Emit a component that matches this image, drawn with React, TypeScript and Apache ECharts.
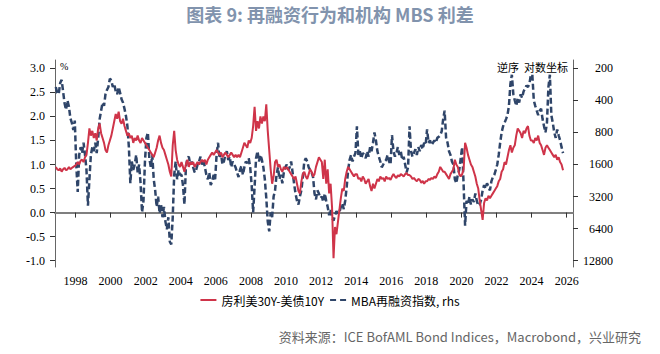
import React, { useEffect, useRef } from "react";
import * as echarts from "echarts";

// Monthly observations starting November 1996
const START_YEAR = 1996;
const START_MONTH = 11;

// 房利美30Y-美债10Y (%), left axis
const spread: number[] = [
  0.95, 0.9,
  0.88, 0.92, 0.85, 0.9, 0.93, 0.88, 0.9, 0.95, 0.9, 0.93, 0.95, 0.97,
  1.0, 1.05, 1.0, 1.08, 1.1, 1.05, 1.15, 1.2, 1.45, 1.75, 1.6, 1.7,
  1.55, 1.65, 1.5, 1.75, 1.85, 1.65, 1.55, 1.45, 1.3, 1.25, 1.4, 1.5,
  1.6, 1.75, 1.9, 2.05, 1.95, 2.1, 1.9, 1.85, 1.95, 1.8, 1.7, 1.6,
  1.65, 1.55, 1.6, 1.45, 1.55, 1.5, 1.6, 1.5, 1.45, 1.55, 1.5, 1.45,
  1.4, 1.35, 1.3, 1.25, 1.2, 1.15, 1.25, 1.35, 1.5, 1.6, 1.45, 1.35,
  1.3, 1.2, 1.1, 1.0, 0.85, 0.75, 1.4, 1.7, 1.3, 1.1, 1.0, 0.95,
  1.05, 0.95, 0.85, 1.0, 1.1, 0.95, 1.05, 1.0, 1.05, 0.95, 1.0, 1.05,
  1.0, 1.05, 1.1, 1.05, 1.1, 1.0, 1.1, 1.15, 1.2, 1.25, 1.2, 1.25,
  1.3, 1.25, 1.2, 1.25, 1.15, 1.2, 1.25, 1.2, 1.15, 1.2, 1.25, 1.2,
  1.15, 1.2, 1.15, 1.2, 1.15, 1.25, 1.35, 1.45, 1.4, 1.35, 1.5, 1.45,
  1.55, 1.8, 2.2, 1.7, 1.9, 1.75, 2.0, 1.85, 2.0, 1.9, 2.25, 1.7,
  1.3, 0.9, 0.6, 0.75, 1.05, 1.1, 0.95, 1.0, 0.9, 0.85, 0.95, 0.9,
  0.95, 0.9, 0.85, 0.8, 0.75, 0.7, 0.75, 0.6, 0.45, 0.4, 0.65, 0.8,
  0.85, 0.75, 0.7, 0.8, 0.9, 0.85, 0.75, 0.8, 0.95, 1.05, 1.15, 1.1,
  1.05, 0.7, 1.1, 0.6, 0.9, 0.4, 0.6, 0.1, -0.95, -0.3, -0.45, -0.2,
  0.05, 0.3, 0.5, 0.45, 0.7, 0.85, 0.95, 0.9, 0.85, 0.8, 0.75, 0.8,
  0.8, 0.7, 0.72, 0.65, 0.75, 0.7, 0.6, 0.65, 0.7, 0.55, 0.45, 0.6,
  0.5, 0.6, 0.7, 0.65, 0.75, 0.7, 0.72, 0.65, 0.75, 0.7, 0.72, 0.68,
  0.75, 0.8, 0.75, 0.72, 0.78, 0.75, 0.8, 0.78, 0.75, 0.8, 0.82, 0.78,
  0.78, 0.75, 0.7, 0.72, 0.68, 0.65, 0.7, 0.68, 0.62, 0.66, 0.6, 0.65,
  0.65, 0.7, 0.68, 0.72, 0.7, 0.75, 0.72, 0.8, 0.85, 0.95, 0.9, 0.85,
  0.85, 0.8, 0.75, 0.7, 0.8, 0.85, 0.9, 1.1, 1.0, 0.95, 0.8, 0.75,
  0.8, 0.9, 1.45, 1.35, 1.2, 1.1, 1.0, 0.95, 0.85, 0.75, 0.6, 0.5,
  0.25, 0.05, -0.15, 0.2, 0.3, 0.25, 0.35, 0.3, 0.35, 0.4, 0.45, 0.5,
  0.55, 0.65, 0.7, 0.85, 0.9, 1.05, 1.0, 1.15, 1.3, 1.4, 1.25, 1.35,
  1.4, 1.6, 1.75, 1.7, 1.65, 1.55, 1.7, 1.65, 1.75, 1.8, 1.6, 1.5,
  1.5, 1.45, 1.55, 1.5, 1.6, 1.45, 1.4, 1.3, 1.2, 1.35, 1.4, 1.35,
  1.3, 1.25, 1.2, 1.15, 1.2, 1.1, 1.15, 1.05, 1.0, 0.88,
];

// MBA再融资指数 (rhs, reversed log scale)
const refi: number[] = [
  300, 340,
  350, 275, 257, 330, 425, 490, 400, 460, 590, 650, 760, 620,
  1600, 2900, 1300, 1100, 1250, 1000, 1300, 1800, 3900, 2200, 1300, 1100,
  1200, 1000, 1250, 900, 600, 500, 420, 450, 350, 320, 300, 250,
  260, 300, 280, 330, 350, 300, 340, 390, 420, 480, 560, 700,
  1100, 2400, 1500, 1800, 1600, 1300, 1900, 1600, 2400, 4500, 3500, 1500,
  900, 800, 1400, 1700, 1300, 2200, 2800, 4000, 3200, 4600, 3800, 5000,
  4000, 5500, 6500, 5000, 8500, 9000, 5000, 2000, 1500, 2200, 1800, 2000,
  2000, 2500, 3800, 1700, 1400, 1350, 1600, 1500, 1700, 1900, 1800, 1600,
  1500, 1350, 1600, 1450, 1700, 2000, 2200, 1900, 2500, 2300, 2000, 2200,
  1300, 1000, 1400, 1250, 1600, 1500, 1300, 1200, 1450, 1350, 1700, 1500,
  1600, 1700, 1900, 2100, 1800, 1650, 2000, 1700, 1500, 1550, 1400, 1700,
  2500, 4500, 2600, 1400, 1200, 1500, 1300, 1450, 1700, 2200, 3300, 5500,
  6800, 4500, 5000, 3200, 2800, 2000, 1700, 2200, 2000, 2400, 1900, 1700,
  1600, 1800, 1700, 1500, 1900, 2400, 3000, 3500, 3800, 3200, 2800, 2100,
  1500, 1400, 1500, 1700, 1800, 1900, 2100, 3000, 3400, 2800, 3000, 3300,
  3200, 3600, 3000, 3500, 4000, 4800, 4200, 5000, 5400, 4800, 4400, 4600,
  4500, 4000, 3700, 4200, 3500, 2600, 1800, 1450, 1300, 1500, 1350, 1250,
  700, 1300, 1200, 1400, 1250, 1300, 1400, 1200, 1350, 1100, 1200, 1000,
  800, 950, 1200, 1350, 1500, 1700, 1600, 1500, 1450, 1300, 1500, 1600,
  850, 1200, 1350, 1250, 1100, 1300, 1200, 1450, 1350, 1600, 1900, 1700,
  700, 1200, 1350, 1250, 1150, 1300, 1100, 1200, 1050, 1150, 1000, 1050,
  750, 1000, 950, 1050, 1000, 950, 1000, 900, 880, 850, 780, 600,
  500, 900, 1000, 1200, 1300, 1500, 1600, 2200, 2400, 2000, 1800, 1400,
  1100, 2500, 6000, 3500, 3800, 3200, 3800, 3400, 3600, 3000, 3500, 3900,
  3800, 3400, 2800, 2500, 2700, 2400, 2600, 2800, 2300, 2100, 2000, 1800,
  1600, 1300, 1000, 800, 700, 650, 600, 550, 450, 280, 230, 350,
  400, 450, 380, 420, 350, 380, 330, 310, 290, 300, 280, 230,
  230, 400, 450, 500, 550, 500, 480, 600, 700, 800, 650, 300,
  230, 550, 650, 800, 900, 750, 850, 950, 1100, 1250,
];

const xTicks: number[] = [1998, 2000, 2002, 2004, 2006, 2008, 2010, 2012, 2014, 2016, 2018, 2020, 2022, 2024, 2026];
const leftTicks: number[] = [-1, -0.5, 0, 0.5, 1, 1.5, 2, 2.5, 3];
const rightTicks: number[] = [200, 400, 800, 1600, 3200, 6400, 12800];

const seriesNames = ["房利美30Y-美债10Y", "MBA再融资指数, rhs"];

function monthTime(i: number): number {
  const m = START_MONTH - 1 + i;
  return START_YEAR + (m + 0.5) / 12;
}

export default function App() {
  const ref = useRef<HTMLDivElement>(null);
  useEffect(() => {
    if (!ref.current) return;
    const chart = echarts.init(ref.current, null, { renderer: "svg" });
    const serifFont = "Liberation Serif";
    const cjkFont = "Noto Sans CJK SC";
    const axisColor = "#7f7f7f";
    const red = "#cf3449";
    const blue = "#2f4569";
    const serifLabel = {
      fontFamily: serifFont,
      fontSize: 12,
      color: "#000",
    };
    chart.setOption({
      animation: false,
      backgroundColor: "#ffffff",
      grid: { left: 55, right: 87, top: 60, bottom: 87, containLabel: false },
      legend: {
        top: 289,
        left: "center",
        itemWidth: 16,
        itemHeight: 2,
        itemGap: 6,
        textStyle: { fontFamily: cjkFont, fontSize: 12, color: "#000" },
        data: [
          { name: seriesNames[0], icon: "path://M0,0H16V2H0Z", itemStyle: { color: red } },
          { name: seriesNames[1], icon: "path://M0,0H6V2H0Z M10,0H16V2H10Z", itemStyle: { color: blue } },
        ],
      },
      xAxis: {
        type: "value",
        min: 1996.83,
        max: 2026.36,
        axisLine: { show: true, lineStyle: { color: axisColor, width: 2 } },
        axisTick: { show: true, customValues: xTicks, length: 5, lineStyle: { color: "#333", width: 1 } },
        axisLabel: {
          ...serifLabel,
          customValues: xTicks,
          formatter: (v: number) => String(Math.round(v)),
          margin: 8,
        },
        splitLine: { show: false },
      },
      yAxis: [
        {
          type: "value",
          min: -1.131,
          max: 3.173,
          axisLine: { show: true, lineStyle: { color: "#666", width: 1 } },
          axisTick: { show: true, customValues: leftTicks, length: 5, lineStyle: { color: "#333" } },
          axisLabel: {
            ...serifLabel,
            customValues: leftTicks,
            formatter: (v: number) => v.toFixed(1),
            margin: 10,
          },
          splitLine: { show: false },
        },
        {
          type: "value",
          inverse: true,
          min: Math.log2(200) - 0.2587,
          max: Math.log2(12800) + 0.1964,
          position: "right",
          axisLine: { show: true, lineStyle: { color: "#666", width: 1 } },
          axisTick: { show: true, customValues: rightTicks.map((v) => Math.log2(v)), length: 5, lineStyle: { color: "#333" } },
          axisLabel: {
            ...serifLabel,
            customValues: rightTicks.map((v) => Math.log2(v)),
            formatter: (v: number) => String(Math.round(Math.pow(2, v))),
            align: "right",
            margin: 40,
          },
          splitLine: { show: false },
        },
      ],
      series: [
        {
          name: seriesNames[0],
          type: "line",
          yAxisIndex: 0,
          symbol: "none",
          data: spread.map((v, i) => [monthTime(i), v]),
          lineStyle: { color: red, width: 2 },
          itemStyle: { color: red },
          z: 3,
        },
        {
          name: seriesNames[1],
          type: "line",
          yAxisIndex: 1,
          symbol: "none",
          data: refi.map((v, i) => [monthTime(i), Math.log2(v)]),
          lineStyle: { color: blue, width: 2.5, type: [6, 3] },
          itemStyle: { color: blue },
          z: 2,
        },
      ],
      graphic: [
        {
          type: "text",
          left: "center",
          top: 5,
          style: {
            text: "图表 9: 再融资行为和机构 MBS 利差",
            fontFamily: cjkFont,
            fontSize: 18,
            fontWeight: "bold",
            fill: "#8193ad",
          },
        },
        {
          type: "text",
          x: 60,
          y: 61,
          style: { text: "%", fontFamily: serifFont, fontSize: 10, fill: "#000" },
        },
        {
          type: "text",
          x: 568,
          y: 61,
          style: { text: "逆序  对数坐标", fontFamily: cjkFont, fontSize: 11, fill: "#000", align: "right" },
        },
        {
          type: "text",
          x: 641,
          y: 330,
          style: {
            text: "资料来源：ICE BofAML Bond Indices，Macrobond，兴业研究",
            fontFamily: cjkFont,
            fontSize: 13,
            fill: "#666",
            align: "right",
          },
        },
      ],
    });
    return () => chart.dispose();
  }, []);
  return (
    <div
      ref={ref}
      style={{ position: "fixed", left: 0, top: 0, width: 660, height: 354, background: "#fff" }}
    />
  );
}
